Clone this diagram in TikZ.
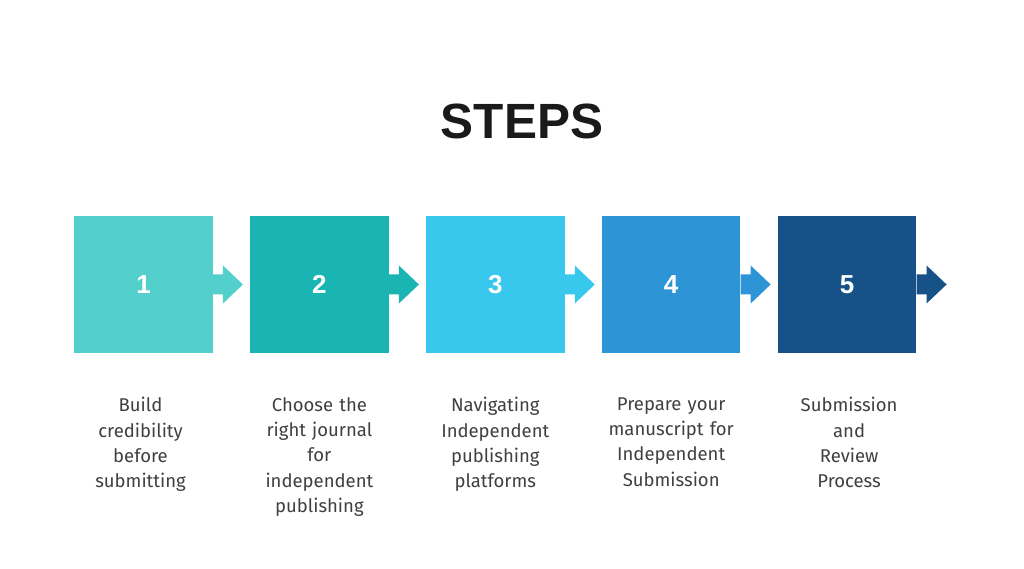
\documentclass[tikz,border=0pt]{standalone}
\usepackage{fontspec}
\setmainfont[Ligatures=NoCommon]{Fira Sans}
\newfontfamily\headfont{Liberation Sans}
\usepackage{xcolor}
\definecolor{stepone}{RGB}{83,207,204}
\definecolor{steptwo}{RGB}{26,181,178}
\definecolor{stepthree}{RGB}{56,200,237}
\definecolor{stepfour}{RGB}{45,148,213}
\definecolor{stepfive}{RGB}{22,82,136}
\definecolor{labelgray}{RGB}{64,64,64}
\definecolor{titleink}{RGB}{26,26,26}
\usepackage{tikz}
\usetikzlibrary{positioning}

\begin{document}
\begin{tikzpicture}[x=1pt,y=1pt,
    stepbox/.style={minimum width=138.5pt,minimum height=137pt,inner sep=0pt,
      font=\headfont\bfseries\fontsize{26}{26}\selectfont,text=white},
    steplabel/.style={text width=150pt,align=center,inner sep=0pt,
      font=\fontsize{18.5}{25.3}\selectfont,text=labelgray},
    node distance=37pt]
  \useasboundingbox[fill=white] (0,0) rectangle (1024,569);

  % title
  \node[font=\headfont\bfseries\fontsize{49.5}{49.5}\selectfont,text=titleink] (title) at (522,448) {STEPS};

  % boxes
  \node[stepbox,fill=stepone] (b1) at (143.5,284.5) {1};
  \node[stepbox,fill=steptwo,right=of b1] (b2) {2};
  \node[stepbox,fill=stepthree,right=of b2] (b3) {3};
  \node[stepbox,fill=stepfour,right=of b3] (b4) {4};
  \node[stepbox,fill=stepfive,right=of b4] (b5) {5};

  % arrows
  \foreach \b/\c in {b1/stepone,b2/steptwo,b3/stepthree,b4/stepfour,b5/stepfive}
    \fill[\c] (\b.east) ++(0,10) -- ++(10,0) -- ++(0,9) -- ++(20,-19)
      -- ++(-20,-19) -- ++(0,9) -- ++(-10,0) -- cycle;

  % labels
  \node[steplabel,below=44pt of b1,xshift=-3pt] (l1) {Build\\credibility\\before\\submitting};
  \node[steplabel,below=44pt of b2] (l2) {Choose the\\right journal\\for\\independent\\publishing};
  \node[steplabel,below=44pt of b3] (l3) {Navigating\\Independent\\publishing\\platforms};
  \node[steplabel,below=44pt of b4] (l4) {Prepare your\\manuscript for\\Independent\\Submission};
  \node[steplabel,below=44pt of b5,xshift=2pt] (l5) {Submission\\and\\Review\\Process};
\end{tikzpicture}
\end{document}
